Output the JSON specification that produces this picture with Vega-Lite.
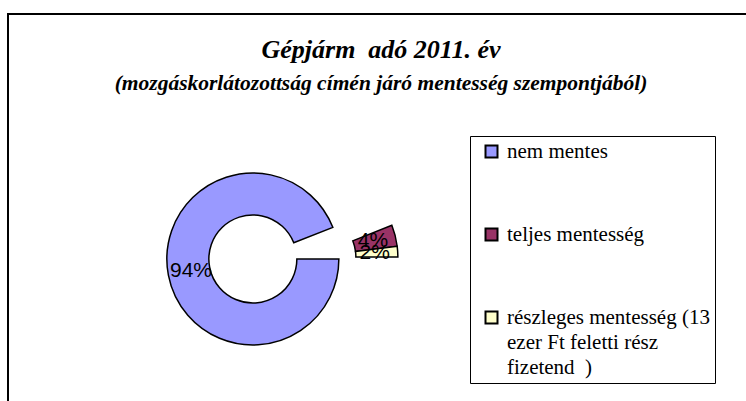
{
  "$schema": "https://vega.github.io/schema/vega-lite/v6.json",
  "width": 742,
  "height": 392,
  "autosize": {"type": "none"},
  "padding": {"left": 8, "top": 14, "right": -4, "bottom": -5},
  "background": "white",
  "view": {"stroke": "black", "strokeWidth": 2, "fill": "white"},
  "config": {"style": {"guide-label": {"lineHeight": 25}}},
  "title": {
    "text": "Gépjárm\u00a0 adó 2011. év",
    "subtitle": "(mozgáskorlátozottság címén járó mentesség szempontjából)",
    "anchor": "middle",
    "frame": "group",
    "orient": "top",
    "offset": -80,
    "dx": 2,
    "font": "Liberation Serif, Times New Roman, serif",
    "fontSize": 26,
    "fontStyle": "italic",
    "fontWeight": "bold",
    "color": "black",
    "subtitleFont": "Liberation Serif, Times New Roman, serif",
    "subtitleFontSize": 21.5,
    "subtitleFontStyle": "italic",
    "subtitleFontWeight": "bold",
    "subtitleColor": "black",
    "subtitlePadding": 10
  },
  "data": {
    "values": [
      {"kategoria": "nem mentes", "ertek": 94, "sorrend": 1, "cimke": "94%"},
      {"kategoria": "teljes mentesség", "ertek": 4, "sorrend": 2, "cimke": "4%"},
      {"kategoria": "részleges mentesség (13 ezer Ft feletti rész fizetend  )", "ertek": 2, "sorrend": 3, "cimke": "2%"}
    ]
  },
  "encoding": {
    "theta": {"field": "ertek", "type": "quantitative", "stack": true, "scale": {"range": [1.5708, 7.854]}},
    "order": {"field": "sorrend", "type": "quantitative"}
  },
  "layer": [
    {
      "mark": {
        "type": "arc",
        "radius": 86,
        "radius2": 44,
        "stroke": "black",
        "strokeWidth": 1.5,
        "x": {"expr": "width*0.33 + (datum.sorrend > 1 ? 59 : 0)"},
        "y": {"expr": "height*0.625 - (datum.sorrend > 1 ? 2 : 0)"}
      },
      "encoding": {
        "color": {
          "field": "kategoria",
          "type": "nominal",
          "sort": null,
          "scale": {
            "domain": ["nem mentes", "teljes mentesség", "részleges mentesség (13 ezer Ft feletti rész fizetend  )"],
            "range": ["#9999FF", "#993366", "#FFFFCC"]
          },
          "legend": {
            "orient": "none",
            "legendX": 462,
            "legendY": 122,
            "title": null,
            "strokeColor": "black",
            "padding": 5,
            "symbolType": "square",
            "symbolSize": 144,
            "symbolStrokeColor": "black",
            "symbolStrokeWidth": 2,
            "symbolOffset": 6,
            "labelOffset": 5,
            "labelFont": "Liberation Serif, Times New Roman, serif",
            "labelFontSize": 21,
            "labelColor": "black",
            "labelLimit": 400,
            "rowPadding": 61,
            "labelExpr": "indexof(datum.label, 'részleges') == 0 ? ['részleges mentesség (13', 'ezer Ft feletti rész', 'fizetend\u00a0 )'] : datum.label"
          }
        }
      }
    },
    {
      "mark": {
        "type": "text",
        "radius": 63,
        "font": "Liberation Sans, Arial, sans-serif",
        "fontSize": 21,
        "color": "black",
        "x": {"expr": "width*0.33 + (datum.sorrend > 1 ? 59 : 0)"},
        "y": {"expr": "height*0.625 - (datum.sorrend > 1 ? 2 : 0)"}
      },
      "encoding": {"text": {"field": "cimke", "type": "nominal"}}
    }
  ]
}
